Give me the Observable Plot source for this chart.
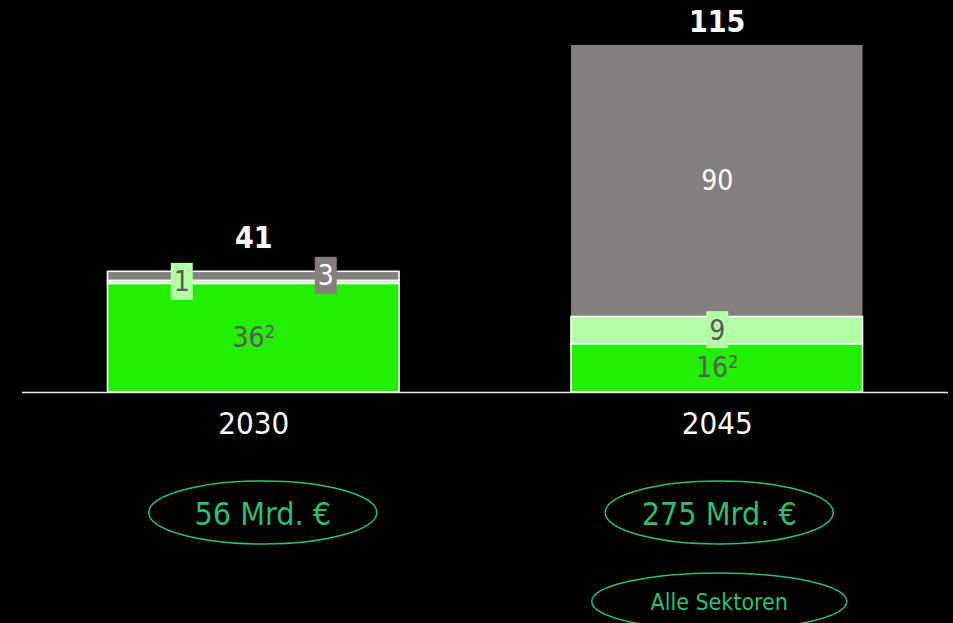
<!DOCTYPE html>
<html>
<head>
<meta charset="utf-8">
<script src="https://cdn.jsdelivr.net/npm/d3@7"></script>
<script src="https://cdn.jsdelivr.net/npm/@observablehq/plot@0.6"></script>
<style>
  html, body { margin: 0; padding: 0; background: #000; }
  #chart svg { display: block; }
</style>
</head>
<body>
<div id="chart"></div>
<script>
// Stacked investment needs per target year (values as labelled)
const years = ["2030", "2045"];
const parts = ["Basis", "Zusatz", "Weitere"];
const basis = [36, 16];
const zusatz = [1, 9];
const weitere = [3, 90];
const basisNotes = ["2", "2"];
const totals = [41, 115];
const costLabels = ["56 Mrd. €", "275 Mrd. €"];
const scopeLabel = "Alle Sektoren";
const scopeYear = "2045";

const palette = ["#22ee00", "#b3ffa6", "#857f7e"];
const textDark = "#595959";
const accent = "#2bbf70";
const font = "'DejaVu Sans Condensed', 'DejaVu Sans', sans-serif";
const NOTE = "\u2063"; // separator between a value and its footnote marker

// Build stacked rows with lower/upper bounds and midpoints
const series = [basis, zusatz, weitere];
const rows = [];
years.forEach((year, i) => {
  let base = 0;
  series.forEach((vals, j) => {
    const value = vals[i];
    rows.push({
      year, part: parts[j], value,
      y1: base, y2: base + value, mid: base + value / 2,
      label: String(value) + (j === 0 && basisNotes[i] ? NOTE + basisNotes[i] : "")
    });
    base += value;
  });
});

// Thin segments get a label tag, some shifted sideways to avoid overlap
const tagShift = {"2030|Zusatz": -72, "2030|Weitere": 72};
const isTag = d => d.value < 10;
const shiftOf = d => tagShift[d.year + "|" + d.part] || 0;

// Custom symbols: rectangle tag and ellipse outline
const box = (w, h) => ({draw(ctx) { ctx.rect(-w / 2, -h / 2, w, h); }});
const ellipse = (rx, ry) => ({
  draw(ctx) {
    const k = 0.5523;
    ctx.moveTo(rx, 0);
    ctx.bezierCurveTo(rx, ry * k, rx * k, ry, 0, ry);
    ctx.bezierCurveTo(-rx * k, ry, -rx, ry * k, -rx, 0);
    ctx.bezierCurveTo(-rx, -ry * k, -rx * k, -ry, 0, -ry);
    ctx.bezierCurveTo(rx * k, -ry, rx, -ry * k, rx, 0);
    ctx.closePath();
  }
});

const marks = [
  // top segment of 2045 drawn without outline
  Plot.rectY(rows, {filter: d => d.year === "2045" && d.part === "Weitere",
    x: "year", y1: "y1", y2: "y2", fill: "part"}),
  Plot.rectY(rows, {filter: d => !(d.year === "2045" && d.part === "Weitere"),
    x: "year", y1: "y1", y2: "y2", fill: "part", stroke: "#ffffff", strokeWidth: 1.6}),
  Plot.ruleY([0], {stroke: "#e8e8e8", strokeWidth: 1.6})
];

// Labels inside segments
for (const dx of [-72, 0, 72]) {
  const tags = rows.filter(d => isTag(d) && shiftOf(d) === dx);
  if (tags.length) {
    marks.push(Plot.dot(tags, {x: "year", y: "mid", dx, dy: -1, symbol: box(22, 37), fill: "part", stroke: null}));
  }
  for (const light of [true, false]) {
    const sel = rows.filter(d => (isTag(d) ? shiftOf(d) === dx : dx === 0) && (d.part === "Weitere") === light);
    if (sel.length) {
      marks.push(Plot.text(sel, {x: "year", y: "mid", dx, text: "label",
        fill: light ? "#ffffff" : textDark, fontSize: 28}));
    }
  }
}

// Per-year annotations: totals, year labels, cost ellipses
const totalDy = [-30, -23];
const costDx = [9, 2];
years.forEach((year, i) => {
  const one = [{year, total: totals[i], cost: costLabels[i]}];
  marks.push(
    Plot.text(one, {x: "year", y: "total", text: d => String(d.total), dy: totalDy[i],
      fill: "#ffffff", fontSize: 30, fontWeight: "bold"}),
    Plot.text(one, {x: "year", y: () => 0, text: "year", dy: 32, fill: "#ffffff", fontSize: 31}),
    Plot.dot(one, {x: "year", y: () => 0, dy: 120, dx: costDx[i], symbol: ellipse(114, 31.5),
      fill: "none", stroke: accent, strokeWidth: 1.5}),
    Plot.text(one, {x: "year", y: () => 0, dy: 122, dx: costDx[i], text: "cost", fill: accent, fontSize: 32})
  );
});
marks.push(
  Plot.dot([scopeYear], {x: d => d, y: () => 0, dy: 209, dx: 2, symbol: ellipse(127.5, 28.5),
    fill: "none", stroke: accent, strokeWidth: 1.5}),
  Plot.text([scopeLabel], {x: () => scopeYear, y: () => 0, dy: 210, dx: 2, text: d => d, fill: accent, fontSize: 23})
);

const chart = Plot.plot({
  width: 953,
  height: 623,
  marginLeft: 22,
  marginRight: 5,
  marginTop: 45,
  marginBottom: 231,
  style: {background: "#000000", fontFamily: font, color: "#ffffff", overflow: "visible"},
  x: {domain: years, paddingInner: 0.371, paddingOuter: 0.1845, round: false, axis: null},
  y: {domain: [0, 115], axis: null},
  color: {domain: parts, range: palette},
  marks
});

// Set footnote markers as raised, smaller digits
d3.select(chart).selectAll("text").each(function () {
  const s = this.textContent;
  if (!s.includes(NOTE)) return;
  const [main, note] = s.split(NOTE);
  const t = d3.select(this).text(main);
  t.append("tspan").attr("dy", "-9").style("font-size", "18px").text(note);
});

document.getElementById("chart").append(chart);
</script>
</body>
</html>
